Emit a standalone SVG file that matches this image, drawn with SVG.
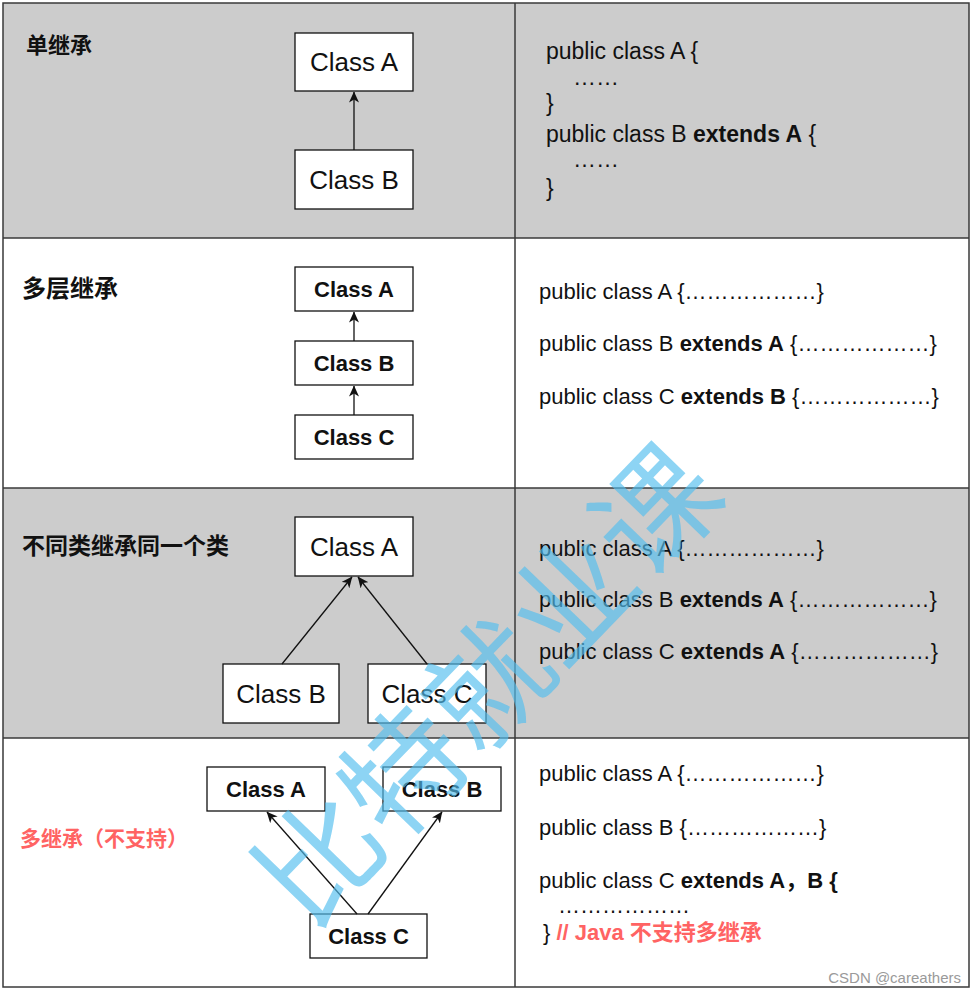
<svg xmlns="http://www.w3.org/2000/svg" width="976" height="994" viewBox="0 0 976 994">
<defs>
<style>
.cell{stroke:#3a3a3a;stroke-width:1.5}
.gray{fill:#cccccc}
.white{fill:#ffffff}
.box{fill:#ffffff;stroke:#111;stroke-width:1.3}
.t{font-family:"Liberation Sans","Noto Sans CJK SC",Arial,sans-serif;fill:#111}
.reg26{font-size:26px;text-anchor:middle}
.bold22{font-size:22px;font-weight:bold;text-anchor:middle}
.code{font-size:22px}
.code1{font-size:23px}
.b{font-weight:bold}
.title{font-weight:bold}
.red{fill:#ff6363}
.conn{stroke:#111;stroke-width:1.3;fill:none;marker-end:url(#arr)}
.wm{font-family:"Noto Sans CJK SC","Liberation Sans",sans-serif;font-size:121px;fill:#52bdee;fill-opacity:0.66}
</style>
<marker id="arr" viewBox="0 0 11 10" refX="10.5" refY="5" markerWidth="11" markerHeight="10" markerUnits="userSpaceOnUse" orient="auto">
<path d="M0,0 L11,5 L0,10 L3,5 z" fill="#111"/>
</marker>
</defs>

<g id="table">
<rect class="gray" x="3" y="3" width="966" height="235"/>
<rect class="white" x="3" y="238" width="966" height="250"/>
<rect class="gray" x="3" y="488" width="966" height="250"/>
<rect class="white" x="3" y="738" width="966" height="249"/>
<rect x="3" y="3" width="966" height="984" fill="none" class="cell"/>
<line class="cell" x1="515" y1="3" x2="515" y2="987"/>
<line class="cell" x1="3" y1="238" x2="969" y2="238"/>
<line class="cell" x1="3" y1="488" x2="969" y2="488"/>
<line class="cell" x1="3" y1="738" x2="969" y2="738"/>
</g>

<g id="row1-title"><text class="t title" x="26" y="53" font-size="22">单继承</text></g>
<g id="row1-classA"><rect class="box" x="295" y="33" width="118" height="58"/><text class="t reg26" x="354" y="71">Class A</text></g>
<g id="row1-classB"><rect class="box" x="295" y="150" width="118" height="59"/><text class="t reg26" x="354" y="189">Class B</text></g>
<g id="row1-code" class="t code1">
<text x="546" y="59">public class A {</text>
<text x="573" y="85">……</text>
<text x="546" y="111">}</text>
<text x="546" y="142">public class B <tspan class="b">extends A</tspan> {</text>
<text x="573" y="167">……</text>
<text x="546" y="196">}</text>
</g>

<g id="row2-title"><text class="t title" x="22" y="297" font-size="24">多层继承</text></g>
<g id="row2-classA"><rect class="box" x="295" y="267" width="118" height="44"/><text class="t bold22" x="354" y="297">Class A</text></g>
<g id="row2-classB"><rect class="box" x="295" y="341" width="118" height="44"/><text class="t bold22" x="354" y="371">Class B</text></g>
<g id="row2-classC"><rect class="box" x="295" y="415" width="118" height="44"/><text class="t bold22" x="354" y="445">Class C</text></g>
<g id="row2-code" class="t code">
<text x="539" y="299">public class A {………………}</text>
<text x="539" y="351">public class B <tspan class="b">extends A</tspan> {………………}</text>
<text x="539" y="404">public class C <tspan class="b">extends B</tspan> {………………}</text>
</g>

<g id="row3-title"><text class="t title" x="22" y="554" font-size="23">不同类继承同一个类</text></g>
<g id="row3-classA"><rect class="box" x="295" y="517" width="118" height="59"/><text class="t reg26" x="354" y="556">Class A</text></g>
<g id="row3-classB"><rect class="box" x="223" y="664" width="116" height="59"/><text class="t reg26" x="281" y="703">Class B</text></g>
<g id="row3-classC"><rect class="box" x="368" y="664" width="118" height="59"/><text class="t reg26" x="427" y="703">Class C</text></g>
<g id="row3-code" class="t code">
<text x="539" y="556">public class A {………………}</text>
<text x="539" y="607">public class B <tspan class="b">extends A</tspan> {………………}</text>
<text x="539" y="659">public class C <tspan class="b">extends A</tspan> {………………}</text>
</g>

<g id="row4-title"><text class="t title red" x="20" y="846" font-size="21">多继承（不支持）</text></g>
<g id="row4-classA"><rect class="box" x="207" y="767" width="118" height="44"/><text class="t bold22" x="266" y="797">Class A</text></g>
<g id="row4-classB"><rect class="box" x="383" y="767" width="118" height="44"/><text class="t bold22" x="442" y="797">Class B</text></g>
<g id="row4-classC"><rect class="box" x="310" y="914" width="117" height="44"/><text class="t bold22" x="368.5" y="944">Class C</text></g>
<g id="row4-code" class="t code">
<text x="539" y="781">public class A {………………}</text>
<text x="539" y="835">public class B {………………}</text>
<text x="539" y="888">public class C <tspan class="b">extends A，B {</tspan></text>
<text x="558" y="913">………………</text>
<text x="543" y="940">} <tspan class="b red">// Java 不支持多继承</tspan></text>
</g>

<g id="connectors">
<line class="conn" x1="354" y1="150" x2="354" y2="92"/>
<line class="conn" x1="354" y1="341" x2="354" y2="312"/>
<line class="conn" x1="354" y1="415" x2="354" y2="386"/>
<line class="conn" x1="282" y1="664" x2="352" y2="577"/>
<line class="conn" x1="427" y1="664" x2="358" y2="577"/>
<line class="conn" x1="357" y1="914" x2="267" y2="812"/>
<line class="conn" x1="368" y1="914" x2="442" y2="812"/>
</g>

<g id="csdn"><text x="961" y="983" font-family="Liberation Sans, Arial, sans-serif" font-size="15" fill="#9a9a9a" text-anchor="end">CSDN @careathers</text></g>

<g id="watermark"><text class="wm" x="482" y="679" text-anchor="middle" dominant-baseline="central" transform="rotate(-46 482 679)">比特就业课</text></g>
</svg>
